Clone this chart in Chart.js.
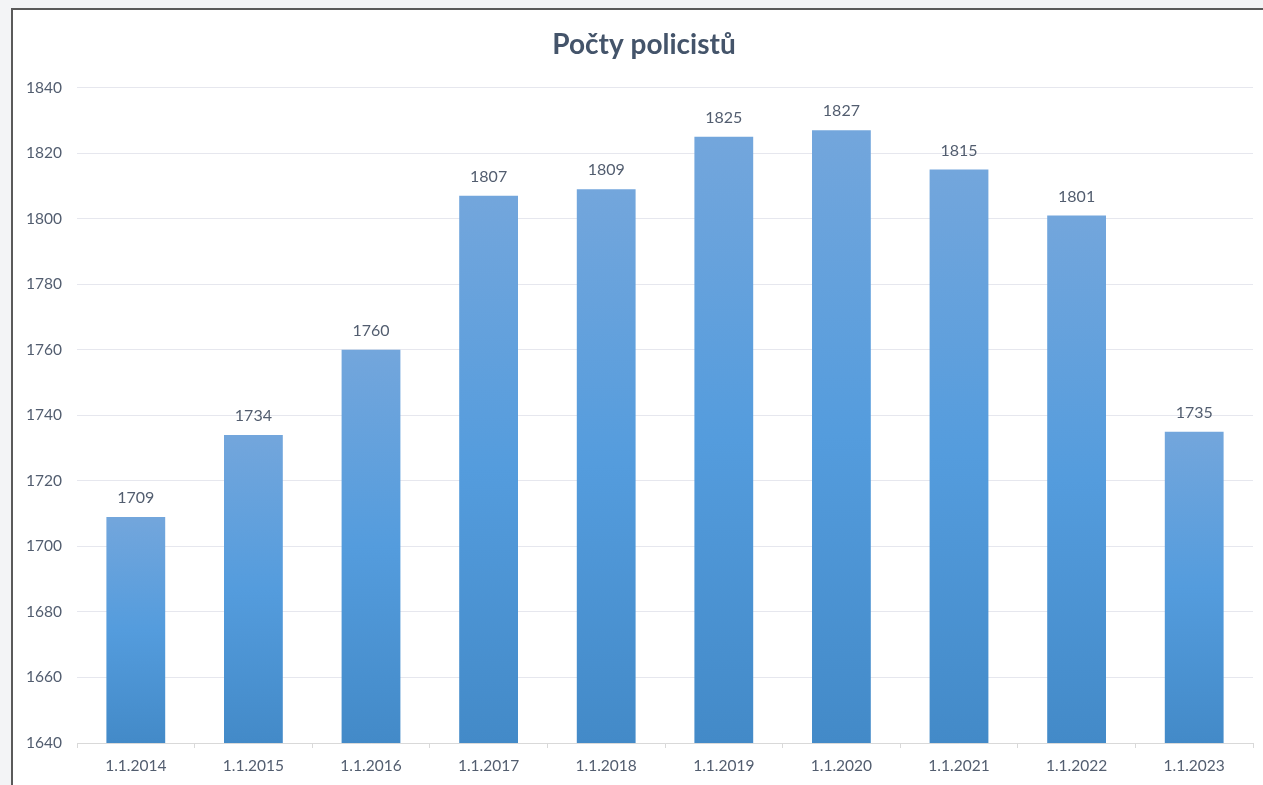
<!DOCTYPE html>
<html>
<head>
<meta charset="utf-8">
<script src="https://cdn.jsdelivr.net/npm/chart.js@4/dist/chart.umd.min.js"></script>
<style>
  html, body { margin: 0; padding: 0; width: 1263px; height: 785px; overflow: hidden; background: #f3f4f6; }
  #frame { position: absolute; left: 11px; top: 8px; width: 1252px; height: 777px; border-left: 2px solid #5a5a5a; border-top: 2px solid #5a5a5a; background: #ffffff; box-sizing: border-box; }
  #wrap { position: absolute; left: 0; top: 0; width: 1250px; height: 775px; }
</style>
</head>
<body>
<div id="frame"><div id="wrap"><canvas id="c"></canvas></div></div>
<script>
const chartTitle = "Počty policistů";
const categories = ["1.1.2014", "1.1.2015", "1.1.2016", "1.1.2017", "1.1.2018", "1.1.2019", "1.1.2020", "1.1.2021", "1.1.2022", "1.1.2023"];
const policeCounts = [1709, 1734, 1760, 1807, 1809, 1825, 1827, 1815, 1801, 1735];
const yMin = 1640;
const yMax = 1840;
const yStep = 20;

const textColor = "#525d6f";
const fontFamily = "Lato, 'Open Sans', sans-serif";

function barGradient(ctx) {
  const chart = ctx.chart;
  const area = chart.chartArea;
  const yScale = chart.scales.y;
  if (!area || !yScale || ctx.raw === undefined) return "#559ddd";
  const top = yScale.getPixelForValue(ctx.raw);
  const bottom = yScale.getPixelForValue(yMin);
  if (!isFinite(top) || !isFinite(bottom) || bottom - top < 1) return "#559ddd";
  const g = chart.ctx.createLinearGradient(0, top, 0, bottom);
  g.addColorStop(0, "#73a6dc");
  g.addColorStop(0.5, "#549cdd");
  g.addColorStop(1, "#438ac8");
  return g;
}

const valueLabels = {
  id: "valueLabels",
  afterDatasetsDraw(chart) {
    const ctx = chart.ctx;
    const meta = chart.getDatasetMeta(0);
    ctx.save();
    ctx.font = "16px " + fontFamily;
    ctx.fillStyle = textColor;
    ctx.textAlign = "center";
    ctx.textBaseline = "middle";
    meta.data.forEach((bar, i) => {
      ctx.fillText(String(policeCounts[i]), bar.x, bar.y - 19);
    });
    ctx.restore();
  }
};

const titleShift = {
  id: "titleShift",
  afterLayout(chart) {
    if (chart.titleBlock) {
      chart.titleBlock.left += 11;
      chart.titleBlock.right += 11;
    }
  }
};

new Chart(document.getElementById("c"), {
  type: "bar",
  data: {
    labels: categories,
    datasets: [{
      data: policeCounts,
      backgroundColor: barGradient,
      borderWidth: 0,
      barPercentage: 0.5,
      categoryPercentage: 1.0
    }]
  },
  options: {
    responsive: true,
    maintainAspectRatio: false,
    animation: false,
    layout: { padding: { left: 0, right: 10, top: 0, bottom: 0 } },
    plugins: {
      legend: { display: false },
      tooltip: { enabled: false },
      title: {
        display: true,
        text: chartTitle,
        color: "#44546a",
        font: { family: fontFamily, size: 28, weight: "bold" },
        padding: { top: 18, bottom: 26 }
      }
    },
    scales: {
      x: {
        offset: true,
        grid: { display: true, drawOnChartArea: false, drawTicks: true, tickLength: 5, color: "#d9d9d9", offset: true },
        border: { display: true, color: "#d9d9d9", width: 1 },
        ticks: { color: textColor, font: { family: fontFamily, size: 15.5 }, padding: 9, maxRotation: 0, autoSkip: false },
        afterFit(scale) { scale.height = 42; }
      },
      y: {
        min: yMin,
        max: yMax,
        ticks: { stepSize: yStep, color: textColor, font: { family: fontFamily, size: 15.5 }, padding: 15, callback: (v) => String(v) },
        grid: { color: "#e6e7ee", lineWidth: 1, drawTicks: false },
        border: { display: false },
        afterFit(scale) { scale.width = 64; }
      }
    }
  },
  plugins: [valueLabels, titleShift]
});
</script>
</body>
</html>
